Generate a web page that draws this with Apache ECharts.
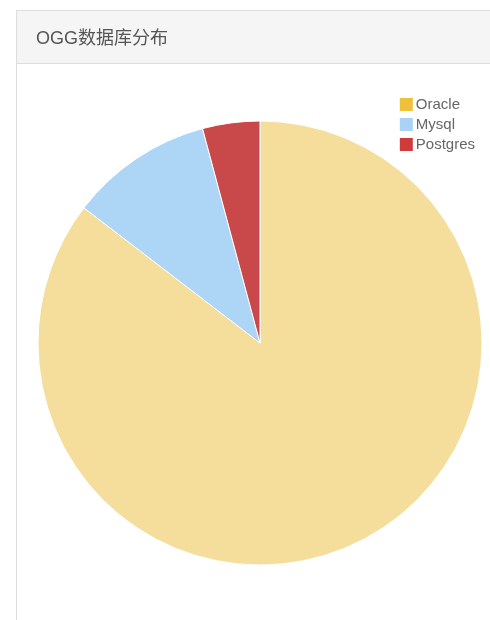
<!DOCTYPE html>
<html>
<head>
<meta charset="utf-8">
<script src="https://cdn.jsdelivr.net/npm/echarts@6/dist/echarts.min.js"></script>
<style>
html,body{margin:0;padding:0;background:#fff;}
#c{width:490px;height:620px;}
</style>
</head>
<body>
<div id="c"></div>
<script>
const titleText = 'OGG数据库分布';
const categories = ['Oracle', 'Mysql', 'Postgres'];
const values = [41, 5, 2];
const sliceColors = ['#f5dd9c', '#acd5f6', '#c9484a'];
const legendColors = ['#eec13a', '#a9d3f5', '#cf3a3a'];

const chart = echarts.init(document.getElementById('c'), null, {renderer: 'canvas'});
chart.setOption({
  backgroundColor: '#ffffff',
  animation: false,
  graphic: [
    {type: 'rect', shape: {x: 16.5, y: 10.5, width: 480, height: 620}, style: {fill: '#ffffff', stroke: '#dddddd', lineWidth: 1}, z: -10},
    {type: 'rect', shape: {x: 17, y: 11, width: 480, height: 52}, style: {fill: '#f5f5f5'}, z: -9},
    {type: 'line', shape: {x1: 17, y1: 63.5, x2: 490, y2: 63.5}, style: {stroke: '#dddddd', lineWidth: 1}, z: -8}
  ],
  title: {
    text: titleText,
    left: 31, top: 25,
    textStyle: {fontSize: 18, fontWeight: 'normal', color: '#555', fontFamily: 'Arial, "Noto Sans CJK SC", sans-serif'}
  },
  legend: {
    orient: 'vertical',
    right: 10, top: 91,
    itemWidth: 15, itemHeight: 15, itemGap: 3,
    icon: 'rect',
    textStyle: {fontSize: 15, lineHeight: 16, color: '#666', fontFamily: 'Arial, "Liberation Sans", sans-serif', padding: [0, 0, 0, -3]},
    data: categories.map((n, i) => ({name: n, itemStyle: {color: legendColors[i]}}))
  },
  series: [{
    type: 'pie',
    center: [260, 343],
    radius: [0, 222],
    startAngle: 90,
    clockwise: true,
    label: {show: false},
    labelLine: {show: false},
    itemStyle: {borderColor: '#ffffff', borderWidth: 1},
    data: categories.map((n, i) => ({name: n, value: values[i], itemStyle: {color: sliceColors[i]}}))
  }]
});
</script>
</body>
</html>
